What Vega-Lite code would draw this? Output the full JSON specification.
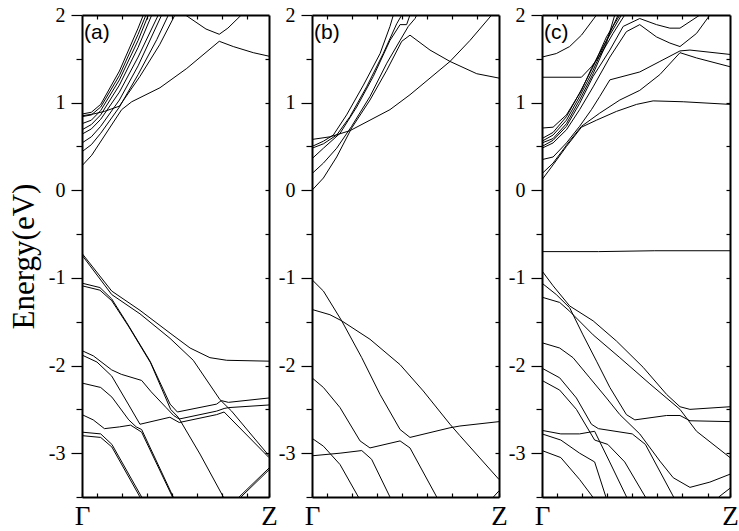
{
"$schema":"https://vega.github.io/schema/vega-lite/v6.json",
"background":"white",
"padding":{"left":8,"top":5,"right":5,"bottom":2},
"datasets":{
"a":[
{"b":"A1","k":0,"E":0.28},{"b":"A1","k":0.052,"E":0.40},{"b":"A1","k":0.212,"E":0.92},{"b":"A1","k":0.266,"E":1.01},{"b":"A1","k":0.417,"E":1.17},{"b":"A1","k":0.56,"E":1.39},{"b":"A1","k":0.734,"E":1.70},{"b":"A1","k":0.809,"E":1.64},{"b":"A1","k":0.916,"E":1.57},{"b":"A1","k":1,"E":1.53},
{"b":"A2","k":0,"E":0.85},{"b":"A2","k":0.06,"E":0.87},{"b":"A2","k":0.12,"E":0.90},{"b":"A2","k":0.2,"E":0.96},{"b":"A2","k":0.31,"E":1.3},{"b":"A2","k":0.415,"E":1.66},{"b":"A2","k":0.497,"E":2.0},
{"b":"S1","k":0,"E":0.44},{"b":"S1","k":0.05,"E":0.52},{"b":"S1","k":0.1,"E":0.65},{"b":"S1","k":0.2,"E":0.95},{"b":"S1","k":0.3,"E":1.32},{"b":"S1","k":0.4,"E":1.72},{"b":"S1","k":0.462,"E":2.0},
{"b":"S2","k":0,"E":0.54},{"b":"S2","k":0.05,"E":0.61},{"b":"S2","k":0.1,"E":0.73},{"b":"S2","k":0.2,"E":1.03},{"b":"S2","k":0.3,"E":1.42},{"b":"S2","k":0.426,"E":2.0},
{"b":"S3","k":0,"E":0.64},{"b":"S3","k":0.05,"E":0.7},{"b":"S3","k":0.1,"E":0.81},{"b":"S3","k":0.2,"E":1.12},{"b":"S3","k":0.3,"E":1.52},{"b":"S3","k":0.408,"E":2.0},
{"b":"S4","k":0,"E":0.69},{"b":"S4","k":0.05,"E":0.75},{"b":"S4","k":0.1,"E":0.86},{"b":"S4","k":0.2,"E":1.2},{"b":"S4","k":0.3,"E":1.63},{"b":"S4","k":0.373,"E":2.0},
{"b":"S5","k":0,"E":0.76},{"b":"S5","k":0.05,"E":0.8},{"b":"S5","k":0.1,"E":0.91},{"b":"S5","k":0.2,"E":1.26},{"b":"S5","k":0.3,"E":1.71},{"b":"S5","k":0.355,"E":2.0},
{"b":"S6","k":0,"E":0.84},{"b":"S6","k":0.05,"E":0.86},{"b":"S6","k":0.1,"E":0.95},{"b":"S6","k":0.2,"E":1.31},{"b":"S6","k":0.3,"E":1.78},{"b":"S6","k":0.342,"E":2.0},
{"b":"S7","k":0,"E":0.87},{"b":"S7","k":0.05,"E":0.89},{"b":"S7","k":0.1,"E":0.98},{"b":"S7","k":0.2,"E":1.36},{"b":"S7","k":0.3,"E":1.85},{"b":"S7","k":0.328,"E":2.0},
{"b":"T1","k":0.553,"E":2.0},{"b":"T1","k":0.663,"E":1.84},{"b":"T1","k":0.734,"E":1.78},{"b":"T1","k":0.78,"E":1.85},{"b":"T1","k":0.852,"E":2.0},
{"b":"V1","k":0,"E":-0.72},{"b":"V1","k":0.159,"E":-1.15},{"b":"V1","k":0.31,"E":-1.37},{"b":"V1","k":0.471,"E":-1.63},{"b":"V1","k":0.578,"E":-1.80},{"b":"V1","k":0.684,"E":-1.91},{"b":"V1","k":0.774,"E":-1.94},{"b":"V1","k":1,"E":-1.95},
{"b":"V2","k":0,"E":-0.74},{"b":"V2","k":0.159,"E":-1.19},{"b":"V2","k":0.31,"E":-1.41},{"b":"V2","k":0.471,"E":-1.69},{"b":"V2","k":0.595,"E":-1.94},{"b":"V2","k":0.738,"E":-2.39},{"b":"V2","k":0.80,"E":-2.52},{"b":"V2","k":1,"E":-3.03},
{"b":"V3","k":0,"E":-1.06},{"b":"V3","k":0.096,"E":-1.11},{"b":"V3","k":0.159,"E":-1.24},{"b":"V3","k":0.239,"E":-1.51},{"b":"V3","k":0.364,"E":-1.95},{"b":"V3","k":0.471,"E":-2.44},{"b":"V3","k":0.51,"E":-2.53},{"b":"V3","k":0.72,"E":-2.44},{"b":"V3","k":0.745,"E":-2.40},{"b":"V3","k":0.783,"E":-2.42},{"b":"V3","k":1,"E":-2.37},
{"b":"V4","k":0,"E":-1.09},{"b":"V4","k":0.096,"E":-1.14},{"b":"V4","k":0.159,"E":-1.26},{"b":"V4","k":0.248,"E":-1.55},{"b":"V4","k":0.367,"E":-1.97},{"b":"V4","k":0.474,"E":-2.5},{"b":"V4","k":0.515,"E":-2.59},{"b":"V4","k":0.631,"E":-3.01},{"b":"V4","k":0.756,"E":-3.5},
{"b":"V5","k":0,"E":-1.83},{"b":"V5","k":0.061,"E":-1.89},{"b":"V5","k":0.159,"E":-2.05},{"b":"V5","k":0.21,"E":-2.1},{"b":"V5","k":0.319,"E":-2.17},{"b":"V5","k":0.37,"E":-2.3},{"b":"V5","k":0.45,"E":-2.48},{"b":"V5","k":0.49,"E":-2.57},{"b":"V5","k":0.52,"E":-2.61},{"b":"V5","k":0.72,"E":-2.52},{"b":"V5","k":0.76,"E":-2.49},{"b":"V5","k":0.783,"E":-2.48},{"b":"V5","k":1,"E":-2.45},
{"b":"V6","k":0,"E":-1.88},{"b":"V6","k":0.08,"E":-1.96},{"b":"V6","k":0.159,"E":-2.12},{"b":"V6","k":0.25,"E":-2.45},{"b":"V6","k":0.31,"E":-2.67},{"b":"V6","k":0.47,"E":-2.59},{"b":"V6","k":0.52,"E":-2.65},{"b":"V6","k":0.72,"E":-2.56},{"b":"V6","k":0.76,"E":-2.53},{"b":"V6","k":1,"E":-3.05},
{"b":"V7","k":0,"E":-2.2},{"b":"V7","k":0.1,"E":-2.25},{"b":"V7","k":0.16,"E":-2.36},{"b":"V7","k":0.25,"E":-2.62},{"b":"V7","k":0.29,"E":-2.7},{"b":"V7","k":0.319,"E":-2.73},{"b":"V7","k":0.488,"E":-3.5},
{"b":"V8","k":0,"E":-2.56},{"b":"V8","k":0.06,"E":-2.62},{"b":"V8","k":0.12,"E":-2.72},{"b":"V8","k":0.2,"E":-2.7},{"b":"V8","k":0.26,"E":-2.68},{"b":"V8","k":0.319,"E":-2.76},{"b":"V8","k":0.484,"E":-3.5},
{"b":"V9","k":0,"E":-2.76},{"b":"V9","k":0.1,"E":-2.78},{"b":"V9","k":0.16,"E":-2.9},{"b":"V9","k":0.319,"E":-3.5},
{"b":"V10","k":0,"E":-2.8},{"b":"V10","k":0.1,"E":-2.82},{"b":"V10","k":0.16,"E":-2.93},{"b":"V10","k":0.31,"E":-3.5},
{"b":"V11","k":0.84,"E":-3.5},{"b":"V11","k":1,"E":-3.17},
{"b":"V12","k":0.85,"E":-3.5},{"b":"V12","k":1,"E":-3.19}
],
"b":[
{"b":"B1","k":0,"E":0.0},{"b":"B1","k":0.061,"E":0.14},{"b":"B1","k":0.132,"E":0.38},{"b":"B1","k":0.212,"E":0.71},{"b":"B1","k":0.31,"E":1.03},{"b":"B1","k":0.4,"E":1.37},{"b":"B1","k":0.48,"E":1.70},{"b":"B1","k":0.524,"E":1.77},{"b":"B1","k":0.631,"E":1.60},{"b":"B1","k":0.738,"E":1.47},{"b":"B1","k":0.881,"E":1.33},{"b":"B1","k":1,"E":1.28},
{"b":"BX","k":0,"E":0.58},{"b":"BX","k":0.096,"E":0.61},{"b":"BX","k":0.203,"E":0.68},{"b":"BX","k":0.31,"E":0.80},{"b":"BX","k":0.417,"E":0.92},{"b":"BX","k":0.524,"E":1.09},{"b":"BX","k":0.631,"E":1.28},{"b":"BX","k":0.738,"E":1.47},{"b":"BX","k":0.845,"E":1.71},{"b":"BX","k":0.961,"E":2.0},
{"b":"B2","k":0,"E":0.19},{"b":"B2","k":0.061,"E":0.31},{"b":"B2","k":0.132,"E":0.48},{"b":"B2","k":0.212,"E":0.73},{"b":"B2","k":0.31,"E":1.07},{"b":"B2","k":0.4,"E":1.45},{"b":"B2","k":0.471,"E":1.71},{"b":"B2","k":0.515,"E":1.87},{"b":"B2","k":0.551,"E":1.96},{"b":"B2","k":0.56,"E":2.0},
{"b":"B3","k":0,"E":0.36},{"b":"B3","k":0.061,"E":0.48},{"b":"B3","k":0.15,"E":0.65},{"b":"B3","k":0.239,"E":0.95},{"b":"B3","k":0.328,"E":1.30},{"b":"B3","k":0.417,"E":1.71},{"b":"B3","k":0.471,"E":1.89},{"b":"B3","k":0.506,"E":1.89},{"b":"B3","k":0.524,"E":2.0},
{"b":"B4","k":0,"E":0.50},{"b":"B4","k":0.061,"E":0.56},{"b":"B4","k":0.114,"E":0.63},{"b":"B4","k":0.185,"E":0.86},{"b":"B4","k":0.275,"E":1.20},{"b":"B4","k":0.364,"E":1.56},{"b":"B4","k":0.417,"E":1.87},{"b":"B4","k":0.435,"E":2.0},
{"b":"B5","k":0,"E":0.48},{"b":"B5","k":0.061,"E":0.53},{"b":"B5","k":0.132,"E":0.63},{"b":"B5","k":0.203,"E":0.84},{"b":"B5","k":0.292,"E":1.18},{"b":"B5","k":0.381,"E":1.56},{"b":"B5","k":0.453,"E":1.90},{"b":"B5","k":0.48,"E":2.0},
{"b":"W1","k":0,"E":-1.02},{"b":"W1","k":0.061,"E":-1.15},{"b":"W1","k":0.159,"E":-1.49},{"b":"W1","k":0.266,"E":-1.91},{"b":"W1","k":0.364,"E":-2.33},{"b":"W1","k":0.471,"E":-2.73},{"b":"W1","k":0.524,"E":-2.82},{"b":"W1","k":0.738,"E":-2.71},{"b":"W1","k":0.791,"E":-2.69},{"b":"W1","k":1,"E":-2.64},
{"b":"W2","k":0,"E":-1.36},{"b":"W2","k":0.096,"E":-1.42},{"b":"W2","k":0.159,"E":-1.49},{"b":"W2","k":0.31,"E":-1.70},{"b":"W2","k":0.471,"E":-1.99},{"b":"W2","k":0.595,"E":-2.29},{"b":"W2","k":0.738,"E":-2.67},{"b":"W2","k":0.791,"E":-2.80},{"b":"W2","k":1,"E":-3.30},
{"b":"W3","k":0,"E":-2.14},{"b":"W3","k":0.061,"E":-2.25},{"b":"W3","k":0.15,"E":-2.48},{"b":"W3","k":0.257,"E":-2.86},{"b":"W3","k":0.31,"E":-2.94},{"b":"W3","k":0.471,"E":-2.86},{"b":"W3","k":0.524,"E":-2.94},{"b":"W3","k":0.667,"E":-3.5},
{"b":"W4","k":0,"E":-3.03},{"b":"W4","k":0.15,"E":-3.00},{"b":"W4","k":0.266,"E":-2.97},{"b":"W4","k":0.319,"E":-3.07},{"b":"W4","k":0.417,"E":-3.5},
{"b":"W5","k":0,"E":-2.83},{"b":"W5","k":0.061,"E":-2.92},{"b":"W5","k":0.15,"E":-3.13},{"b":"W5","k":0.248,"E":-3.5},
{"b":"W6","k":0.97,"E":-3.5},{"b":"W6","k":1,"E":-3.43}
],
"c":[
{"b":"C1","k":0,"E":0.12},{"b":"C1","k":0.059,"E":0.29},{"b":"C1","k":0.13,"E":0.50},{"b":"C1","k":0.21,"E":0.72},{"b":"C1","k":0.29,"E":0.80},{"b":"C1","k":0.396,"E":0.90},{"b":"C1","k":0.503,"E":0.98},{"b":"C1","k":0.591,"E":1.02},{"b":"C1","k":0.751,"E":1.01},{"b":"C1","k":1,"E":0.98},
{"b":"C2","k":0,"E":0.19},{"b":"C2","k":0.059,"E":0.31},{"b":"C2","k":0.139,"E":0.54},{"b":"C2","k":0.21,"E":0.73},{"b":"C2","k":0.307,"E":0.88},{"b":"C2","k":0.414,"E":1.03},{"b":"C2","k":0.52,"E":1.14},{"b":"C2","k":0.627,"E":1.32},{"b":"C2","k":0.734,"E":1.57},{"b":"C2","k":0.822,"E":1.51},{"b":"C2","k":1,"E":1.41},
{"b":"C3","k":0,"E":0.35},{"b":"C3","k":0.059,"E":0.38},{"b":"C3","k":0.13,"E":0.54},{"b":"C3","k":0.2,"E":0.73},{"b":"C3","k":0.263,"E":0.92},{"b":"C3","k":0.307,"E":1.07},{"b":"C3","k":0.361,"E":1.26},{"b":"C3","k":0.52,"E":1.35},{"b":"C3","k":0.627,"E":1.47},{"b":"C3","k":0.734,"E":1.59},{"b":"C3","k":0.787,"E":1.60},{"b":"C3","k":1,"E":1.55},
{"b":"C4","k":0,"E":0.48},{"b":"C4","k":0.059,"E":0.54},{"b":"C4","k":0.13,"E":0.69},{"b":"C4","k":0.2,"E":0.92},{"b":"C4","k":0.272,"E":1.18},{"b":"C4","k":0.361,"E":1.52},{"b":"C4","k":0.449,"E":1.81},{"b":"C4","k":0.52,"E":1.89},{"b":"C4","k":0.609,"E":1.75},{"b":"C4","k":0.68,"E":1.68},{"b":"C4","k":0.734,"E":1.64},{"b":"C4","k":0.822,"E":1.79},{"b":"C4","k":0.893,"E":2.0},
{"b":"C5","k":0,"E":0.50},{"b":"C5","k":0.059,"E":0.57},{"b":"C5","k":0.13,"E":0.73},{"b":"C5","k":0.2,"E":0.99},{"b":"C5","k":0.272,"E":1.30},{"b":"C5","k":0.361,"E":1.60},{"b":"C5","k":0.432,"E":1.87},{"b":"C5","k":0.52,"E":1.96},{"b":"C5","k":0.609,"E":1.89},{"b":"C5","k":0.68,"E":1.85},{"b":"C5","k":0.734,"E":1.85},{"b":"C5","k":0.84,"E":2.0},
{"b":"C6","k":0,"E":0.54},{"b":"C6","k":0.059,"E":0.59},{"b":"C6","k":0.13,"E":0.76},{"b":"C6","k":0.2,"E":1.03},{"b":"C6","k":0.272,"E":1.33},{"b":"C6","k":0.343,"E":1.68},{"b":"C6","k":0.387,"E":2.0},
{"b":"C7","k":0,"E":0.56},{"b":"C7","k":0.059,"E":0.63},{"b":"C7","k":0.13,"E":0.80},{"b":"C7","k":0.2,"E":1.07},{"b":"C7","k":0.272,"E":1.37},{"b":"C7","k":0.343,"E":1.71},{"b":"C7","k":0.405,"E":2.0},
{"b":"C8","k":0,"E":0.59},{"b":"C8","k":0.059,"E":0.66},{"b":"C8","k":0.13,"E":0.84},{"b":"C8","k":0.2,"E":1.11},{"b":"C8","k":0.272,"E":1.41},{"b":"C8","k":0.343,"E":1.75},{"b":"C8","k":0.414,"E":2.0},
{"b":"C9","k":0,"E":0.71},{"b":"C9","k":0.059,"E":0.72},{"b":"C9","k":0.13,"E":0.86},{"b":"C9","k":0.21,"E":1.14},{"b":"C9","k":0.263,"E":1.39},{"b":"C9","k":0.325,"E":1.64},{"b":"C9","k":0.423,"E":2.0},
{"b":"CF","k":0,"E":1.29},{"b":"CF","k":0.21,"E":1.29},{"b":"CF","k":0.263,"E":1.41},{"b":"CF","k":0.316,"E":1.56},{"b":"CF","k":0.378,"E":1.79},{"b":"CF","k":0.44,"E":2.0},
{"b":"CT","k":0,"E":1.52},{"b":"CT","k":0.076,"E":1.56},{"b":"CT","k":0.147,"E":1.64},{"b":"CT","k":0.21,"E":1.77},{"b":"CT","k":0.29,"E":2.0},
{"b":"CD","k":0,"E":-0.70},{"b":"CD","k":0.3,"E":-0.70},{"b":"CD","k":0.6,"E":-0.69},{"b":"CD","k":1,"E":-0.69},
{"b":"U1","k":0,"E":-0.92},{"b":"U1","k":0.059,"E":-1.09},{"b":"U1","k":0.147,"E":-1.32},{"b":"U1","k":0.272,"E":-1.49},{"b":"U1","k":0.396,"E":-1.72},{"b":"U1","k":0.538,"E":-2.02},{"b":"U1","k":0.663,"E":-2.33},{"b":"U1","k":0.734,"E":-2.47},{"b":"U1","k":0.787,"E":-2.50},{"b":"U1","k":1,"E":-2.47},
{"b":"U2","k":0,"E":-1.06},{"b":"U2","k":0.076,"E":-1.19},{"b":"U2","k":0.147,"E":-1.34},{"b":"U2","k":0.218,"E":-1.65},{"b":"U2","k":0.29,"E":-1.95},{"b":"U2","k":0.361,"E":-2.25},{"b":"U2","k":0.449,"E":-2.56},{"b":"U2","k":0.494,"E":-2.62},{"b":"U2","k":0.663,"E":-2.57},{"b":"U2","k":0.734,"E":-2.57},{"b":"U2","k":0.787,"E":-2.63},{"b":"U2","k":1,"E":-2.64},
{"b":"U3","k":0,"E":-1.22},{"b":"U3","k":0.094,"E":-1.28},{"b":"U3","k":0.147,"E":-1.38},{"b":"U3","k":0.272,"E":-1.65},{"b":"U3","k":0.414,"E":-1.91},{"b":"U3","k":0.574,"E":-2.21},{"b":"U3","k":0.734,"E":-2.50},{"b":"U3","k":0.822,"E":-2.75},{"b":"U3","k":1,"E":-3.05},
{"b":"U4","k":0,"E":-1.74},{"b":"U4","k":0.094,"E":-1.80},{"b":"U4","k":0.165,"E":-1.91},{"b":"U4","k":0.254,"E":-2.14},{"b":"U4","k":0.343,"E":-2.37},{"b":"U4","k":0.414,"E":-2.56},{"b":"U4","k":0.52,"E":-2.78},{"b":"U4","k":0.627,"E":-3.09},{"b":"U4","k":0.698,"E":-3.28},{"b":"U4","k":0.787,"E":-3.39},{"b":"U4","k":0.893,"E":-3.33},{"b":"U4","k":1,"E":-3.24},
{"b":"U5","k":0,"E":-2.03},{"b":"U5","k":0.094,"E":-2.14},{"b":"U5","k":0.183,"E":-2.37},{"b":"U5","k":0.263,"E":-2.67},{"b":"U5","k":0.3,"E":-2.72},{"b":"U5","k":0.48,"E":-2.78},{"b":"U5","k":0.55,"E":-2.9},{"b":"U5","k":0.7,"E":-3.5},
{"b":"U6","k":0,"E":-2.17},{"b":"U6","k":0.094,"E":-2.28},{"b":"U6","k":0.183,"E":-2.5},{"b":"U6","k":0.28,"E":-2.85},{"b":"U6","k":0.35,"E":-2.9},{"b":"U6","k":0.44,"E":-3.1},{"b":"U6","k":0.55,"E":-3.5},
{"b":"U7","k":0,"E":-2.74},{"b":"U7","k":0.1,"E":-2.78},{"b":"U7","k":0.2,"E":-2.78},{"b":"U7","k":0.28,"E":-2.75},{"b":"U7","k":0.36,"E":-3.1},{"b":"U7","k":0.45,"E":-3.5},
{"b":"U8","k":0,"E":-2.78},{"b":"U8","k":0.1,"E":-2.85},{"b":"U8","k":0.2,"E":-3.0},{"b":"U8","k":0.28,"E":-3.1},{"b":"U8","k":0.34,"E":-3.5},
{"b":"U9","k":0,"E":-2.97},{"b":"U9","k":0.1,"E":-3.05},{"b":"U9","k":0.2,"E":-3.3},{"b":"U9","k":0.27,"E":-3.5},
{"b":"U10","k":0.94,"E":-3.5},{"b":"U10","k":1,"E":-3.4}
]
},
"hconcat":[
{"width":187,"height":482,
 "layer":[
  {"data":{"name":"a"},"mark":{"type":"line","color":"black","strokeWidth":1,"clip":true},
   "encoding":{
    "x":{"field":"k","type":"quantitative","scale":{"domain":[0,1],"nice":false,"zero":false},"axis":{"orient":"bottom","title":null,"values":[0,0.079,0.213,0.346,0.48,0.613,0.747,0.881,1],"labelExpr":"datum.value==0?'Γ':(datum.value==1?'Z':'')","tickSize":-4,"labelPadding":10,"labelFontSize":27,"labelBaseline":"top","labelFlush":false,"labelOverlap":false,"labelBound":false}},
    "y":{"field":"E","type":"quantitative","scale":{"domain":[-3.5,2],"nice":false,"zero":false},"axis":{"orient":"left","title":"Energy(eV)","titleFontSize":31,"titlePadding":8,"values":[2,1.5,1,0.5,0,-0.5,-1,-1.5,-2,-2.5,-3,-3.5],"labelExpr":"datum.value%1==0?''+datum.value:''","tickSize":{"condition":{"test":"datum.value%1==0","value":11},"value":6},"labelPadding":6,"labelFlush":false,"labelOverlap":false}},
    "detail":{"field":"b"}}},
  {"data":{"values":[{"lab":"(a)"}]},"mark":{"type":"text","font":"Liberation Sans","fontSize":21,"align":"left","baseline":"top","dx":2,"dy":7,"color":"black"},
   "encoding":{
    "text":{"field":"lab"},
    "x":{"datum":0,"type":"quantitative","axis":{"orient":"top","title":null,"values":[0.079,0.213,0.346,0.48,0.613,0.747,0.881],"labels":false,"tickSize":-4}},
    "y":{"datum":2,"type":"quantitative","axis":{"orient":"right","title":null,"values":[1.5,1,0.5,0,-0.5,-1,-1.5,-2,-2.5,-3],"labels":false,"tickSize":-4}}}}
 ],
 "resolve":{"axis":{"x":"independent","y":"independent"}}},
{"width":187,"height":482,
 "layer":[
  {"data":{"name":"b"},"mark":{"type":"line","color":"black","strokeWidth":1,"clip":true},
   "encoding":{
    "x":{"field":"k","type":"quantitative","scale":{"domain":[0,1],"nice":false,"zero":false},"axis":{"orient":"bottom","title":null,"values":[0,0.079,0.213,0.346,0.48,0.613,0.747,0.881,1],"labelExpr":"datum.value==0?'Γ':(datum.value==1?'Z':'')","tickSize":-4,"labelPadding":10,"labelFontSize":27,"labelBaseline":"top","labelFlush":false,"labelOverlap":false,"labelBound":false}},
    "y":{"field":"E","type":"quantitative","scale":{"domain":[-3.5,2],"nice":false,"zero":false},"axis":{"orient":"left","title":null,"values":[2,1.5,1,0.5,0,-0.5,-1,-1.5,-2,-2.5,-3,-3.5],"labelExpr":"datum.value%1==0?''+datum.value:''","tickSize":{"condition":{"test":"datum.value%1==0","value":11},"value":6},"labelPadding":6,"labelFlush":false,"labelOverlap":false}},
    "detail":{"field":"b"}}},
  {"data":{"values":[{"lab":"(b)"}]},"mark":{"type":"text","font":"Liberation Sans","fontSize":21,"align":"left","baseline":"top","dx":2,"dy":7,"color":"black"},
   "encoding":{
    "text":{"field":"lab"},
    "x":{"datum":0,"type":"quantitative","axis":{"orient":"top","title":null,"values":[0.079,0.213,0.346,0.48,0.613,0.747,0.881],"labels":false,"tickSize":-4}},
    "y":{"datum":2,"type":"quantitative","axis":{"orient":"right","title":null,"values":[1.5,1,0.5,0,-0.5,-1,-1.5,-2,-2.5,-3],"labels":false,"tickSize":-4}}}}
 ],
 "resolve":{"axis":{"x":"independent","y":"independent"}}},
{"width":188,"height":482,
 "layer":[
  {"data":{"name":"c"},"mark":{"type":"line","color":"black","strokeWidth":1,"clip":true},
   "encoding":{
    "x":{"field":"k","type":"quantitative","scale":{"domain":[0,1],"nice":false,"zero":false},"axis":{"orient":"bottom","title":null,"values":[0,0.079,0.213,0.346,0.48,0.613,0.747,0.881,1],"labelExpr":"datum.value==0?'Γ':(datum.value==1?'Z':'')","tickSize":-4,"labelPadding":10,"labelFontSize":27,"labelBaseline":"top","labelFlush":false,"labelOverlap":false,"labelBound":false}},
    "y":{"field":"E","type":"quantitative","scale":{"domain":[-3.5,2],"nice":false,"zero":false},"axis":{"orient":"left","title":null,"values":[2,1.5,1,0.5,0,-0.5,-1,-1.5,-2,-2.5,-3,-3.5],"labelExpr":"datum.value%1==0?''+datum.value:''","tickSize":{"condition":{"test":"datum.value%1==0","value":11},"value":6},"labelPadding":6,"labelFlush":false,"labelOverlap":false}},
    "detail":{"field":"b"}}},
  {"data":{"values":[{"lab":"(c)"}]},"mark":{"type":"text","font":"Liberation Sans","fontSize":21,"align":"left","baseline":"top","dx":2,"dy":7,"color":"black"},
   "encoding":{
    "text":{"field":"lab"},
    "x":{"datum":0,"type":"quantitative","axis":{"orient":"top","title":null,"values":[0.079,0.213,0.346,0.48,0.613,0.747,0.881],"labels":false,"tickSize":-4}},
    "y":{"datum":2,"type":"quantitative","axis":{"orient":"right","title":null,"values":[1.5,1,0.5,0,-0.5,-1,-1.5,-2,-2.5,-3],"labels":false,"tickSize":-4}}}}
 ],
 "resolve":{"axis":{"x":"independent","y":"independent"}}}
],
"spacing":43,
"bounds":"flush",
"config":{
 "view":{"stroke":null},
 "axis":{"grid":false,"domainColor":"black","domainWidth":2,"tickColor":"black","tickWidth":1.2,"labelFont":"Liberation Serif","labelFontSize":20,"labelColor":"black","titleFont":"Liberation Serif","titleFontWeight":"normal","titleColor":"black"}
}
}
